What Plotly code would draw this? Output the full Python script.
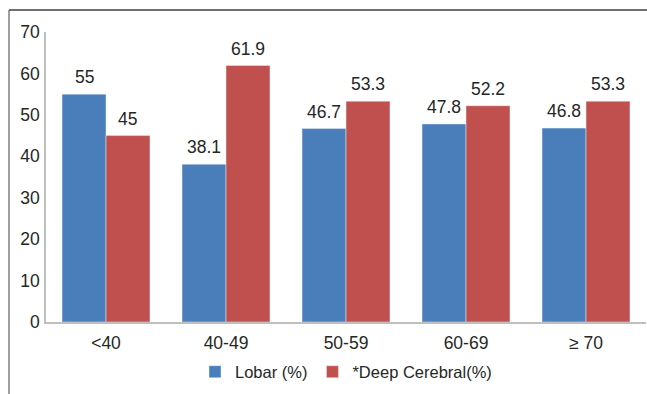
import plotly.graph_objects as go

categories = ["<40", "40-49", "50-59", "60-69", "≥ 70"]
lobar = [55, 38.1, 46.7, 47.8, 46.8]
deep = [45, 61.9, 53.3, 52.2, 53.3]
lobar_labels = ["55", "38.1", "46.7", "47.8", "46.8"]
deep_labels = ["45", "61.9", "53.3", "52.2", "53.3"]
y_ticks = [0, 10, 20, 30, 40, 50, 60, 70]

W, H = 647, 394
ML, MR, MT, MB = 46, 1, 32, 72
pw, ph = W - ML - MR, H - MT - MB
BARGAP = 0.267
half_bar = pw / len(categories) * (1 - BARGAP) / 4  # horizontal offset of each bar centre

font = dict(family="Liberation Sans, Arial, sans-serif", size=17.5, color="#262626")
legend_font = dict(family="Liberation Sans, Arial, sans-serif", size=16.5, color="#262626")

fig = go.Figure()
fig.add_trace(go.Bar(name="Lobar (%)", x=categories, y=lobar, marker_color="#4a7ebb"))
fig.add_trace(go.Bar(name="*Deep Cerebral(%)", x=categories, y=deep, marker_color="#c0504d"))

# value labels above each bar
for vals, labels, sign in ((lobar, lobar_labels, -1), (deep, deep_labels, 1)):
    for c, v, t in zip(categories, vals, labels):
        fig.add_annotation(x=c, y=v, text=t, showarrow=False, xanchor="center", yanchor="bottom",
                           xshift=sign * half_bar, yshift=5, font=font)

# outer frame: left and top edges
fx = (9 - ML) / pw
fy_top = 1 + (MT - 10) / ph
fy_bot = -MB / ph
fig.add_shape(type="line", xref="paper", yref="paper", x0=fx, x1=fx, y0=fy_bot, y1=fy_top,
              line=dict(color="#7f7f7f", width=1.5))
fig.add_shape(type="line", xref="paper", yref="paper", x0=fx, x1=(W - ML) / pw + 0.01, y0=fy_top, y1=fy_top,
              line=dict(color="#404040", width=1.5))

fig.update_layout(
    width=W, height=H,
    margin=dict(l=ML, r=MR, t=MT, b=MB),
    paper_bgcolor="white", plot_bgcolor="white",
    barmode="group", bargap=BARGAP, bargroupgap=0,
    font=font,
    showlegend=True,
    legend=dict(orientation="h", x=0.5, xanchor="center", y=-(372 - (H - MB)) / ph, yanchor="middle",
                font=legend_font, itemwidth=30, tracegroupgap=0),
    xaxis=dict(showline=True, linecolor="#bfbfbf", linewidth=1.5, ticks="", tickfont=font,
               showgrid=False, zeroline=False, ticklabelstandoff=4),
    yaxis=dict(range=[0, 70], tickvals=y_ticks, showline=True, linecolor="#bfbfbf", linewidth=1.5,
               ticks="", tickfont=font, showgrid=False, zeroline=False, ticklabelstandoff=1),
)

fig.write_html("out.html")
